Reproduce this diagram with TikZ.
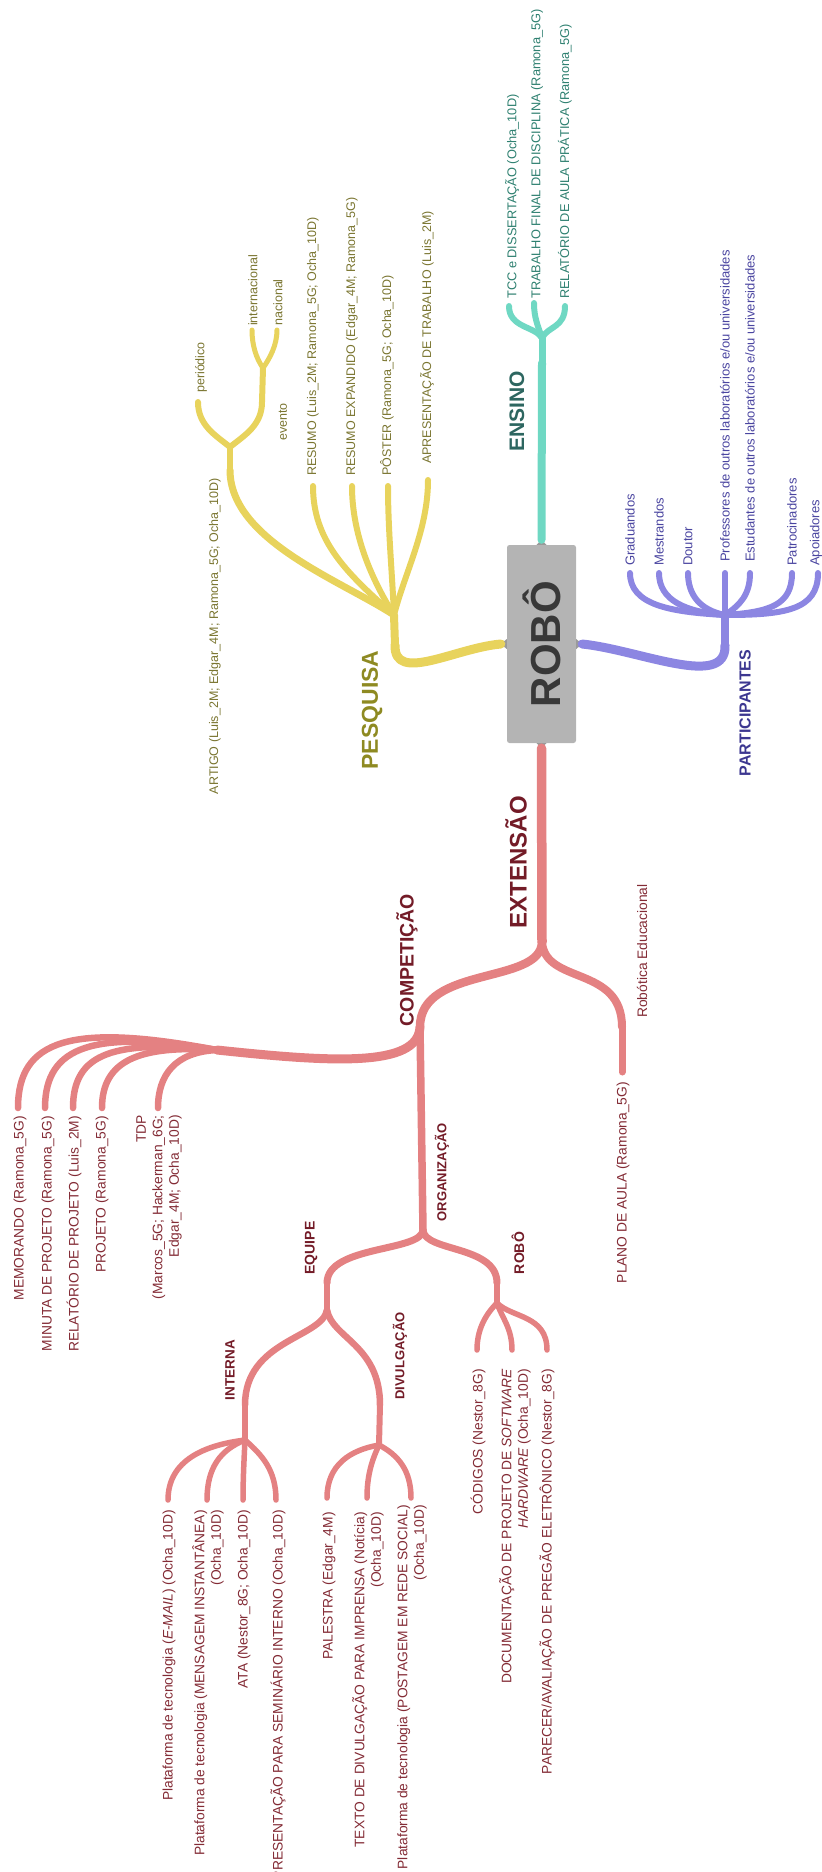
\documentclass[tikz,border=0pt]{standalone}
\usepackage{fontspec}
\setmainfont{Liberation Sans}
\definecolor{cyel}{HTML}{E8D35C}
\definecolor{cteal}{HTML}{6FD8C3}
\definecolor{cpur}{HTML}{8C86E2}
\definecolor{cred}{HTML}{E48182}
\definecolor{tyel}{HTML}{7A7530}
\definecolor{tyelb}{HTML}{8E8A22}
\definecolor{tteal}{HTML}{2E8070}
\definecolor{ttealb}{HTML}{2D6660}
\definecolor{tpur}{HTML}{4A45A0}
\definecolor{tpurb}{HTML}{3C3790}
\definecolor{tred}{HTML}{832B35}
\definecolor{tredb}{HTML}{731B27}
\definecolor{rootgray}{HTML}{B4B4B4}
\definecolor{portgray}{HTML}{9A9A9A}
\begin{document}
\begin{tikzpicture}[x=1pt,y=-1pt,
  ybr/.style={draw=cyel, line width=#1, line cap=round, line join=round},
  tbr/.style={draw=cteal, line width=#1, line cap=round, line join=round},
  pbr/.style={draw=cpur, line width=#1, line cap=round, line join=round},
  rbr/.style={draw=cred, line width=#1, line cap=round, line join=round},
  txt/.style={rotate=90, inner sep=0pt},
  yleaf/.style={txt, text=tyel, font=\fontsize{12.5}{15}\selectfont},
  tleaf/.style={txt, text=tteal, font=\fontsize{12.8}{15}\selectfont},
  pleaf/.style={txt, text=tpur, font=\fontsize{13}{15}\selectfont},
  rleaf/.style={txt, text=tred, font=\fontsize{13.8}{16.5}\selectfont},
  yhead/.style={txt, text=tyelb, font=\bfseries\fontsize{#1}{#1}\selectfont},
  thead/.style={txt, text=ttealb, font=\bfseries\fontsize{#1}{#1}\selectfont},
  phead/.style={txt, text=tpurb, font=\bfseries\fontsize{#1}{#1}\selectfont},
  rhead/.style={txt, text=tredb, font=\bfseries\fontsize{#1}{#1}\selectfont},
  rootbox/.style={fill=rootgray, rounded corners=2.5pt, minimum width=69pt,
    minimum height=198pt, inner sep=0pt, text=black!78,
    font=\bfseries\fontsize{42}{42}\selectfont},
  port/.style={fill=portgray}
]
\useasboundingbox (0,0) rectangle (822,1872);
\clip (0,0) rectangle (822,1872);

% ---------- root ----------
\node[rootbox] (root) at (541.5,644) {\rotatebox{90}{ROBÔ}};
\coordinate (pN) at ([yshift=5pt]root.north);
\coordinate (pS) at ([yshift=-5pt]root.south);
\coordinate (pW) at ([xshift=-6pt]root.west);
\coordinate (pE) at ([xshift=6pt]root.east);
\fill[port] ([xshift=-5pt]root.north) -- (pN) -- ([xshift=5pt]root.north) -- cycle;
\fill[port] ([xshift=-5pt]root.south) -- (pS) -- ([xshift=5pt]root.south) -- cycle;
\fill[port] ([yshift=-5pt]root.west) -- (pW) -- ([yshift=5pt]root.west) -- cycle;
\fill[port] ([yshift=-5pt]root.east) -- (pE) -- ([yshift=5pt]root.east) -- cycle;

% ---------- ENSINO ----------
\coordinate (ens) at (542,363);
\coordinate (ensj) at (542,338);
\coordinate (ens1) at (509,306);
\coordinate (ens2) at (534,303);
\coordinate (ens3) at (565,306);
\draw[tbr=8] (pN) -- (ens);
\draw[tbr=7] (ens) -- (ensj);
\draw[tbr=6] (ensj) .. controls (535,326) and (509,328) .. (ens1);
\draw[tbr=6] (ensj) .. controls (538,326) and (534,318) .. (ens2);
\draw[tbr=6] (ensj) .. controls (548,326) and (565,328) .. (ens3);
\node[thead=21] (ensl) at (517,411) {ENSINO};
\node[tleaf, anchor=west] (tcc) at (512,299) {TCC e DISSERTAÇÃO (Ocha\_10D)};
\node[tleaf, anchor=west] (tfd) at (537,299) {TRABALHO FINAL DE DISCIPLINA (Ramona\_5G)};
\node[tleaf, anchor=west] (rap) at (565,299) {RELATÓRIO DE AULA PRÁTICA (Ramona\_5G)};

% ---------- PESQUISA ----------
\coordinate (pes) at (395,645);
\coordinate (pesj) at (394,615);
\coordinate (art) at (230,470);
\coordinate (pr1) at (313,486);
\coordinate (pr2) at (352,486);
\coordinate (pr3) at (388,486);
\coordinate (pr4) at (428,480);
\coordinate (artj) at (230,447);
\coordinate (per) at (198,402);
\coordinate (evt) at (262,402);
\coordinate (evtj) at (263,368);
\coordinate (intl) at (252,330);
\coordinate (nac) at (277,330);
\draw[ybr=9] (pW) .. controls (455,648) and (394,684) .. (pes);
\draw[ybr=8] (pes) -- (pesj);
\draw[ybr=7] (pesj) .. controls (340,580) and (230,540) .. (art);
\draw[ybr=6] (pesj) .. controls (345,572) and (313,540) .. (pr1);
\draw[ybr=6] (pesj) .. controls (372,580) and (352,535) .. (pr2);
\draw[ybr=6] (pesj) .. controls (392,570) and (388,530) .. (pr3);
\draw[ybr=6] (pesj) .. controls (405,572) and (428,530) .. (pr4);
\draw[ybr=6.5] (art) -- (artj);
\draw[ybr=6] (artj) .. controls (215,435) and (198,425) .. (per);
\draw[ybr=6] (artj) .. controls (245,435) and (262,425) .. (evt);
\draw[ybr=6] (evt) -- (evtj);
\draw[ybr=5] (evtj) .. controls (256,358) and (252,345) .. (intl);
\draw[ybr=5] (evtj) .. controls (270,358) and (277,345) .. (nac);
\node[yhead=23] (pesl) at (372,710) {PESQUISA};
\node[yleaf, anchor=east] (artl) at (215,478) {ARTIGO (Luis\_2M; Edgar\_4M; Ramona\_5G; Ocha\_10D)};
\node[yleaf, anchor=west] (perl) at (201,393) {periódico};
\node[yleaf, anchor=east] (evtl) at (283,403) {evento};
\node[yleaf, anchor=west] (intll) at (253,326) {internacional};
\node[yleaf, anchor=west] (nacl) at (278,326) {nacional};
\node[yleaf, anchor=west] (pr1l) at (313,476) {RESUMO (Luis\_2M; Ramona\_5G; Ocha\_10D)};
\node[yleaf, anchor=west] (pr2l) at (352,476) {RESUMO EXPANDIDO (Edgar\_4M; Ramona\_5G)};
\node[yleaf, anchor=west] (pr3l) at (387,476) {PÔSTER (Ramona\_5G; Ocha\_10D)};
\node[yleaf, anchor=west] (pr4l) at (427,464) {APRESENTAÇÃO DE TRABALHO (Luis\_2M)};

% ---------- PARTICIPANTES ----------
\coordinate (par) at (725,645);
\coordinate (parj) at (725,615);
\coordinate (pa1) at (630,573);
\coordinate (pa2) at (659,573);
\coordinate (pa3) at (688,573);
\coordinate (pa4) at (725,573);
\coordinate (pa5) at (750,573);
\coordinate (pa6) at (792,573);
\coordinate (pa7) at (818,573);
\draw[pbr=9] (pE) .. controls (640,650) and (727,690) .. (par);
\draw[pbr=8] (par) -- (parj);
\draw[pbr=6] (parj) .. controls (670,612) and (630,605) .. (pa1);
\draw[pbr=6] (parj) .. controls (685,612) and (659,600) .. (pa2);
\draw[pbr=6] (parj) .. controls (700,610) and (688,595) .. (pa3);
\draw[pbr=6] (parj) -- (pa4);
\draw[pbr=6] (parj) .. controls (740,605) and (750,595) .. (pa5);
\draw[pbr=6] (parj) .. controls (770,612) and (792,605) .. (pa6);
\draw[pbr=6] (parj) .. controls (785,615) and (818,610) .. (pa7);
\node[phead=16] (parl) at (745,713) {PARTICIPANTES};
\node[pleaf, anchor=west] (pa1l) at (630,566) {Graduandos};
\node[pleaf, anchor=west] (pa2l) at (659,566) {Mestrandos};
\node[pleaf, anchor=west] (pa3l) at (688,566) {Doutor};
\node[pleaf, anchor=west] (pa4l) at (725,562) {Professores de outros laboratórios e/ou universidades};
\node[pleaf, anchor=west] (pa5l) at (750,562) {Estudantes de outros laboratórios e/ou universidades};
\node[pleaf, anchor=west] (pa6l) at (792,566) {Patrocinadores};
\node[pleaf, anchor=west] (pa7l) at (816,566) {Apoiadores};

% ---------- EXTENSAO ----------
\coordinate (ext) at (542,942);
\coordinate (comp) at (420,1027);
\coordinate (robed) at (622,1027);
\coordinate (pla) at (622,1072);
\coordinate (org) at (423,1230);
\coordinate (bnd) at (217,1050);
\coordinate (mem) at (18,1108);
\coordinate (min) at (45,1108);
\coordinate (rel) at (73,1108);
\coordinate (prj) at (102,1108);
\coordinate (tdp) at (158,1108);
\draw[rbr=9.5] (pS) -- (ext);
\draw[rbr=8.5] (ext) .. controls (541,985) and (420,965) .. (comp);
\draw[rbr=8] (ext) .. controls (545,985) and (622,965) .. (robed);
\draw[rbr=7] (robed) -- (pla);
\draw[rbr=7.5] (comp) -- (org);
\draw[rbr=9] (comp) .. controls (418,1068) and (330,1062) .. (bnd);
\draw[rbr=6.5] (bnd) .. controls (175,1052) and (158,1075) .. (tdp);
\draw[rbr=6.5] (bnd) .. controls (140,1045) and (102,1060) .. (prj);
\draw[rbr=6.5] (bnd) .. controls (115,1040) and (73,1052) .. (rel);
\draw[rbr=6.5] (bnd) .. controls (95,1030) and (45,1045) .. (min);
\draw[rbr=6.5] (bnd) .. controls (70,1022) and (18,1040) .. (mem);

\coordinate (equ) at (327,1283);
\coordinate (rsub) at (497,1283);
\coordinate (equj) at (327,1310);
\coordinate (int) at (245,1405);
\coordinate (div) at (380,1405);
\coordinate (intj) at (245,1440);
\coordinate (divj) at (379,1445);
\coordinate (rsubj) at (497,1303);
\coordinate (i1) at (168,1500);
\coordinate (i2) at (207,1500);
\coordinate (i3) at (243,1500);
\coordinate (i4) at (276,1500);
\coordinate (d1) at (327,1498);
\coordinate (d2) at (367,1498);
\coordinate (d3) at (411,1498);
\coordinate (r1) at (477,1350);
\coordinate (r2) at (512,1350);
\coordinate (r3) at (547,1350);
\draw[rbr=7] (org) .. controls (422,1252) and (327,1245) .. (equ);
\draw[rbr=7] (org) .. controls (424,1252) and (497,1245) .. (rsub);
\draw[rbr=6.5] (equ) -- (equj);
\draw[rbr=6.5] (equj) .. controls (322,1338) and (245,1340) .. (int);
\draw[rbr=6.5] (equj) .. controls (332,1338) and (380,1345) .. (div);
\draw[rbr=6] (int) -- (intj);
\draw[rbr=5.5] (intj) .. controls (205,1445) and (168,1460) .. (i1);
\draw[rbr=5.5] (intj) .. controls (220,1450) and (207,1468) .. (i2);
\draw[rbr=5.5] (intj) .. controls (244,1460) and (243,1480) .. (i3);
\draw[rbr=5.5] (intj) .. controls (262,1455) and (276,1470) .. (i4);
\draw[rbr=6] (div) -- (divj);
\draw[rbr=5.5] (divj) .. controls (350,1450) and (327,1465) .. (d1);
\draw[rbr=5.5] (divj) .. controls (372,1460) and (367,1475) .. (d2);
\draw[rbr=5.5] (divj) .. controls (398,1455) and (411,1470) .. (d3);
\draw[rbr=6.5] (rsub) -- (rsubj);
\draw[rbr=5.5] (rsubj) .. controls (485,1315) and (477,1330) .. (r1);
\draw[rbr=5.5] (rsubj) .. controls (502,1318) and (512,1328) .. (r2);
\draw[rbr=5.5] (rsubj) .. controls (512,1318) and (547,1315) .. (r3);

\node[rhead=24] (extl) at (516,862) {EXTENSÃO};
\node[rhead=19.5] (compl) at (407,960) {COMPETIÇÃO};
\node[rhead=13] (orgl) at (442,1172) {ORGANIZAÇÃO};
\node[rhead=14] (equl) at (311,1248) {EQUIPE};
\node[rhead=14] (rsubl) at (518,1253) {ROBÔ};
\node[rhead=13.5] (intl2) at (230,1370) {INTERNA};
\node[rhead=13] (divl) at (400,1356) {DIVULGAÇÃO};

\node[rleaf] (robedl) at (642,951) {Robótica Educacional};
\node[rleaf, anchor=east] (plal) at (623,1082) {PLANO DE AULA (Ramona\_5G)};
\node[rleaf, anchor=east] (meml) at (20,1116) {MEMORANDO (Ramona\_5G)};
\node[rleaf, anchor=east] (minl) at (48,1116) {MINUTA DE PROJETO (Ramona\_5G)};
\node[rleaf, anchor=east] (rell) at (74,1116) {RELATÓRIO DE PROJETO (Luis\_2M)};
\node[rleaf, anchor=east] (prjl) at (102,1116) {PROJETO (Ramona\_5G)};
\node[rleaf, anchor=east, align=right] (tdpl) at (159,1115) {TDP\\(Marcos\_5G; Hackerman\_6G;\\Edgar\_4M; Ocha\_10D)};

\node[rleaf, anchor=east] (i1l) at (169,1510) {Plataforma de tecnologia (\textit{E-MAIL}) (Ocha\_10D)};
\node[rleaf, anchor=east, align=right] (i2l) at (208,1510) {Plataforma de tecnologia (MENSAGEM INSTANTÂNEA)\\(Ocha\_10D)};
\node[rleaf, anchor=east] (i3l) at (244,1510) {ATA (Nestor\_8G; Ocha\_10D)};
\node[rleaf, anchor=east] (i4l) at (278,1510) {APRESENTAÇÃO PARA SEMINÁRIO INTERNO (Ocha\_10D)};
\node[rleaf, anchor=east] (d1l) at (329,1512) {PALESTRA (Edgar\_4M)};
\node[rleaf, anchor=east, align=right] (d2l) at (368,1512) {TEXTO DE DIVULGAÇÃO PARA IMPRENSA (Notícia)\\(Ocha\_10D)};
\node[rleaf, anchor=east, align=right] (d3l) at (412,1505) {Plataforma de tecnologia (POSTAGEM EM REDE SOCIAL)\\(Ocha\_10D)};
\node[rleaf, anchor=east] (r1l) at (478,1369) {CÓDIGOS (Nestor\_8G)};
\node[rleaf, anchor=east, align=right] (r2l) at (515,1369) {DOCUMENTAÇÃO DE PROJETO DE \textit{SOFTWARE}\\\textit{HARDWARE} (Ocha\_10D)};
\node[rleaf, anchor=east] (r3l) at (547,1369) {PARECER/AVALIAÇÃO DE PREGÃO ELETRÔNICO (Nestor\_8G)};
\end{tikzpicture}
\end{document}
